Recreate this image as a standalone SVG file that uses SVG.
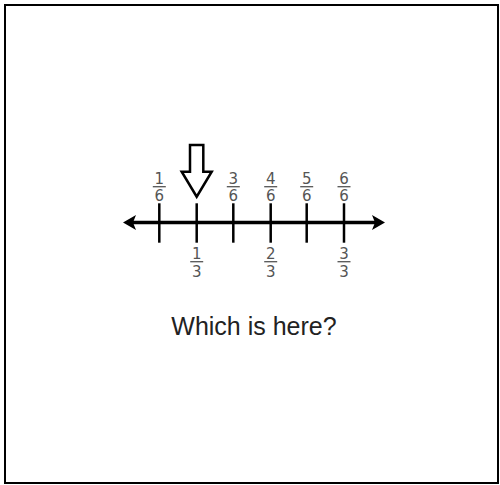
<svg xmlns="http://www.w3.org/2000/svg" width="500" height="485" viewBox="0 0 500 485">
<style>
.frac{font-family:"DejaVu Sans",Verdana,sans-serif;font-size:15px;fill:#555;text-anchor:middle}
.bar{stroke:#555;stroke-width:1.3}
.tick{stroke:#000;stroke-width:2.5}
.q{font-family:"Liberation Sans",Arial,sans-serif;font-size:25px;fill:#222;text-anchor:middle}
</style>
<defs>
<g id="f"><line class="bar" x1="-6.5" y1="0" x2="6.5" y2="0"/></g>
</defs>
<rect x="5" y="5" width="493" height="478" fill="#fff" stroke="#000" stroke-width="2"/>
<g id="axis">
<line x1="133" y1="222.5" x2="375" y2="222.5" stroke="#000" stroke-width="3.3"/>
<polygon points="123,222.5 136,215 133,222.5 136,230" fill="#000"/>
<polygon points="385,222.5 372,215 375,222.5 372,230" fill="#000"/>
<line class="tick" x1="159.3" y1="203.3" x2="159.3" y2="242.7"/>
<line class="tick" x1="196.7" y1="203.3" x2="196.7" y2="242.7"/>
<line class="tick" x1="233.3" y1="203.3" x2="233.3" y2="242.7"/>
<line class="tick" x1="270.7" y1="203.3" x2="270.7" y2="242.7"/>
<line class="tick" x1="306.7" y1="203.3" x2="306.7" y2="242.7"/>
<line class="tick" x1="344" y1="203.3" x2="344" y2="242.7"/>
</g>
<g id="pointer">
<polygon points="190,145 203.3,145 203.3,171.7 211.7,171.7 196.7,196.7 181.7,171.7 190,171.7" fill="#fff" stroke="#000" stroke-width="2.5" stroke-linejoin="miter"/>
</g>
<g id="top-labels">
<g transform="translate(159.3,0)"><text class="frac" y="184.3">1</text><use href="#f" y="186.7"/><text class="frac" y="200.7">6</text></g>
<g transform="translate(233.3,0)"><text class="frac" y="184.3">3</text><use href="#f" y="186.7"/><text class="frac" y="200.7">6</text></g>
<g transform="translate(270.7,0)"><text class="frac" y="184.3">4</text><use href="#f" y="186.7"/><text class="frac" y="200.7">6</text></g>
<g transform="translate(306.7,0)"><text class="frac" y="184.3">5</text><use href="#f" y="186.7"/><text class="frac" y="200.7">6</text></g>
<g transform="translate(344,0)"><text class="frac" y="184.3">6</text><use href="#f" y="186.7"/><text class="frac" y="200.7">6</text></g>
</g>
<g id="bottom-labels">
<g transform="translate(196.7,0)"><text class="frac" y="259">1</text><use href="#f" y="261.7"/><text class="frac" y="276.7">3</text></g>
<g transform="translate(270.7,0)"><text class="frac" y="259">2</text><use href="#f" y="261.7"/><text class="frac" y="276.7">3</text></g>
<g transform="translate(344,0)"><text class="frac" y="259">3</text><use href="#f" y="261.7"/><text class="frac" y="276.7">3</text></g>
</g>
<text class="q" x="254" y="335">Which is here?</text>
</svg>
